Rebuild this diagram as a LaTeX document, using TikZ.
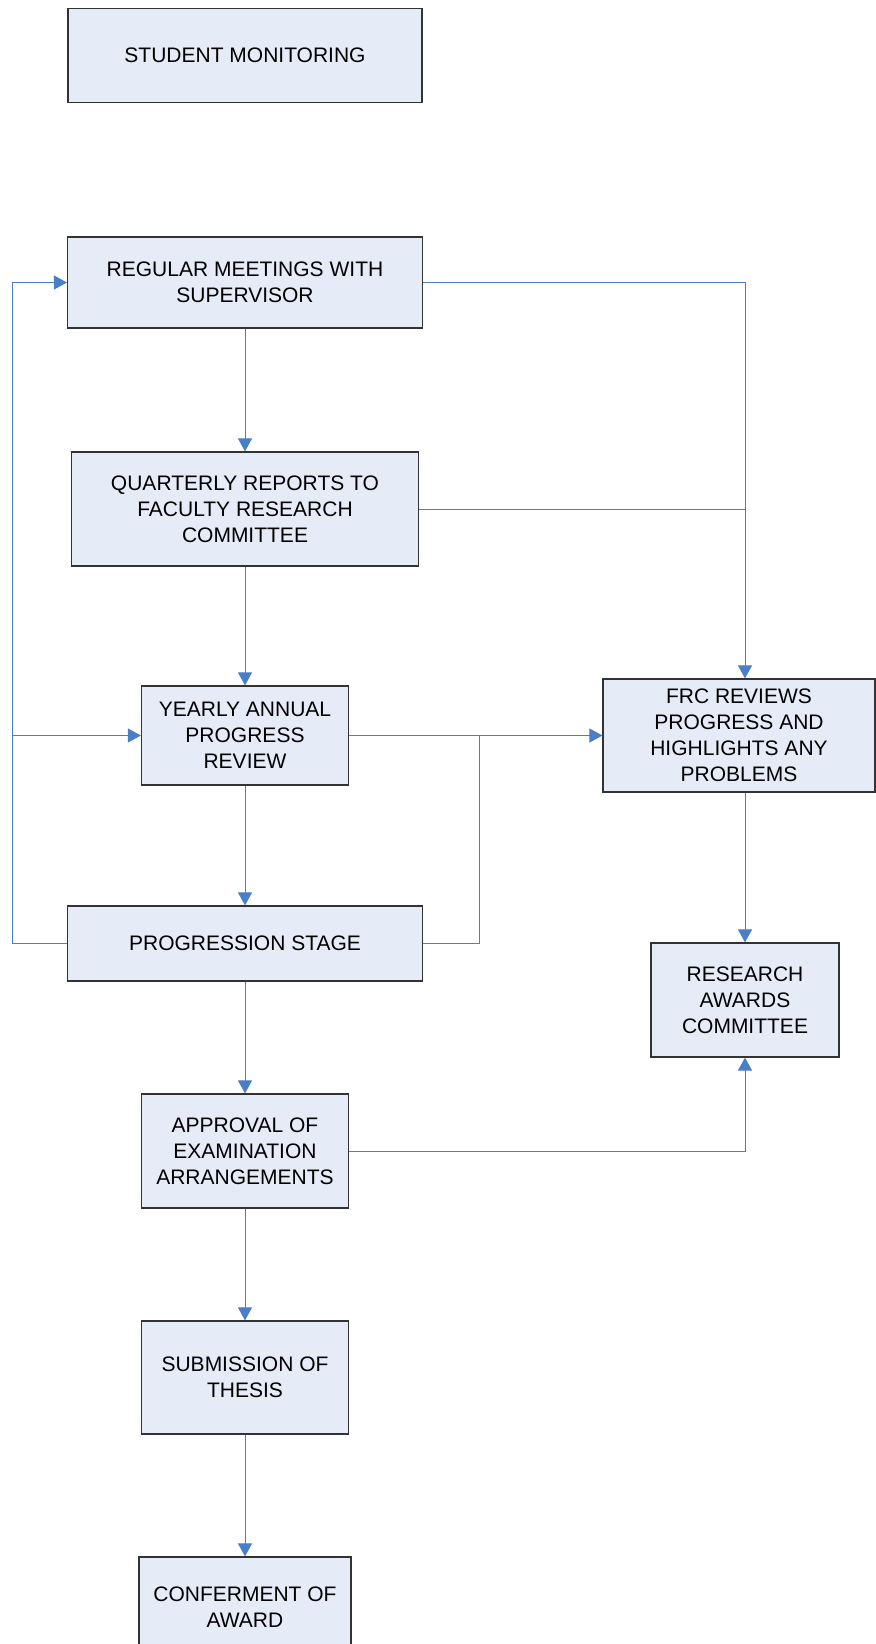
\documentclass[tikz,border=0pt]{standalone}
\usepackage{fontspec}
\setmainfont{Liberation Sans}
\usetikzlibrary{arrows.meta}
\definecolor{boxfill}{HTML}{E6ECF7}
\definecolor{linkblue}{HTML}{4A7EC7}
\begin{document}
\begin{tikzpicture}[x=0.5pt,y=-0.5pt,
    box/.style={draw=black!80,line width=0.6pt,fill=boxfill,align=center,inner sep=0pt,
      font=\fontsize{10.5}{13}\selectfont},
    link/.style={draw=linkblue,line width=0.5pt},
    arr/.style={link,-{Triangle[length=6.5pt,width=7pt]}}]
      \useasboundingbox (0,0) rectangle (875,1644);
      \node[box,minimum width=177pt,minimum height=47pt] (mon) at (245,55.5) {STUDENT MONITORING};
      \node[box,minimum width=177.5pt,minimum height=45.5pt] (meet) at (245,282.5) {REGULAR MEETINGS WITH\\SUPERVISOR};
      \node[box,minimum width=173.5pt,minimum height=57pt] (quart) at (245,509) {QUARTERLY REPORTS TO\\FACULTY RESEARCH\\COMMITTEE};
      \node[box,minimum width=103.5pt,minimum height=49.5pt] (yearly) at (245,735.5) {YEARLY ANNUAL\\PROGRESS\\REVIEW};
      \node[box,minimum width=136pt,minimum height=56.5pt] (frc) at (739,735.5) {FRC REVIEWS\\PROGRESS AND\\HIGHLIGHTS ANY\\PROBLEMS};
      \node[box,minimum width=177.5pt,minimum height=37.5pt] (prog) at (245,943.5) {PROGRESSION STAGE};
      \node[box,minimum width=94pt,minimum height=57pt] (rac) at (745,1000) {RESEARCH\\AWARDS\\COMMITTEE};
      \node[box,minimum width=103.5pt,minimum height=57pt] (appr) at (245,1151) {APPROVAL OF\\EXAMINATION\\ARRANGEMENTS};
      \node[box,minimum width=103.5pt,minimum height=56.5pt] (subm) at (245,1377.5) {SUBMISSION OF\\THESIS};
      \node[box,minimum width=106pt,minimum height=50pt] (conf) at (245,1607) {CONFERMENT OF\\AWARD};
      \coordinate (lft) at (12,0);
      \coordinate (mid) at (479,0);
      \draw[arr] (meet) -- (quart);
      \draw[arr] (quart) -- (yearly);
      \draw[arr] (yearly) -- (prog);
      \draw[arr] (prog) -- (appr);
      \draw[arr] (appr) -- (subm);
      \draw[arr] (subm) -- (conf);
      \draw[arr] (meet.east) -| (frc.north -| rac);
      \draw[link] (quart.east) -- (quart.east -| rac);
      \draw[arr] (yearly) -- (frc);
      \draw[link] (prog.east) -| (mid |- frc.west);
      \draw[arr] (prog.west) -| (lft |- meet.west) -- (meet.west);
      \draw[arr] (lft |- yearly.west) -- (yearly.west);
      \draw[arr] (frc.south -| rac) -- (rac);
      \draw[arr] (appr.east) -| (rac.south);
    \end{tikzpicture}
\end{document}
